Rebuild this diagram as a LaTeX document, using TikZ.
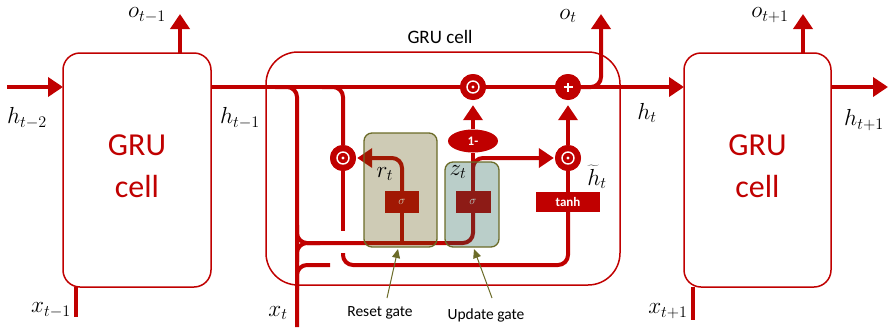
\RequirePackage{fix-cm}
\documentclass[tikz,border=0pt]{standalone}
\usepackage{fontspec}
\setmainfont{Carlito}
\usetikzlibrary{arrows.meta,shapes.geometric}
\definecolor{gred}{RGB}{192,0,0}
\definecolor{olivec}{RGB}{107,107,40}
\definecolor{resetfill}{RGB}{92,82,10}
\definecolor{updfill}{RGB}{26,92,75}
\newcommand{\ml}[1]{\scalebox{1.12}{$#1$}}
\tikzset{
  wire/.style={draw=gred, line width=4pt},
  rwire/.style={wire, rounded corners=10pt},
  arr/.style={-{Triangle[width=19pt,length=15pt]}},
  cellbox/.style={draw=gred, line width=1.5pt, rounded corners=17pt, fill=white, inner sep=0pt},
  gru/.style={text=gred, font=\fontsize{32}{42}\selectfont, align=center},
  mlab/.style={font=\fontsize{20.74}{25}\selectfont, inner sep=0pt},
  odotnode/.style={circle, fill=gred, minimum size=26pt, inner sep=0pt,
    path picture={\draw[white, line width=1.4pt] (path picture bounding box.center) circle (6pt);
      \fill[white] (path picture bounding box.center) circle (1.6pt);}},
  plusnode/.style={circle, fill=gred, minimum size=26pt, inner sep=0pt,
    path picture={\draw[white, line width=2.2pt] ([xshift=-4.5pt]path picture bounding box.center) -- ([xshift=4.5pt]path picture bounding box.center)
      ([yshift=-4.5pt]path picture bounding box.center) -- ([yshift=4.5pt]path picture bounding box.center);}},
  opbox/.style={fill=gred, text=white, inner sep=0pt, font=\bfseries\fontsize{13}{15}\selectfont},
  gatebox/.style={draw=olivec, line width=1.3pt, fill opacity=0.3, rounded corners=8pt, inner sep=0pt},
  note/.style={draw=olivec, line width=1pt, -{Triangle[width=8pt,length=9pt]}},
  notetext/.style={font=\fontsize{15.5}{18}\selectfont, inner sep=0pt}
}
\begin{document}
\begin{tikzpicture}[x=1pt, y=-1pt]
\useasboundingbox (0,0) rectangle (889,327);

% outer cells
\node[cellbox, minimum width=148pt, minimum height=234pt] (cL) at (137,170) {};
\node[gru] (tL) at (137,166) {GRU\\cell};
\node[cellbox, minimum width=147pt, minimum height=234pt] (cR) at (757.5,170) {};
\node[gru] (tR) at (757.5,166) {GRU\\cell};

% middle cell frame
\node[draw=gred, line width=1.5pt, rounded corners=32pt, minimum width=354pt, minimum height=233pt, inner sep=0pt] (cM) at (443,168.5) {};
\node[font=\fontsize{19}{22}\selectfont, inner sep=0pt] (tM) at (440,37) {GRU cell};

% coordinates
\coordinate (hin) at (7,87);
\coordinate (cLin) at (63,87);
\coordinate (cLout) at (211,87);
\coordinate (cRin) at (684,87);
\coordinate (cRout) at (831,87);
\coordinate (hend) at (888,87);
\coordinate (oLb) at (180,53);
\coordinate (oLt) at (180,14);
\coordinate (oRb) at (803,53);
\coordinate (oRt) at (803,14);
\coordinate (xLt) at (76,287);
\coordinate (xLb) at (76,317);
\coordinate (xRt) at (693,287);
\coordinate (xRb) at (693,320);
\coordinate (xbot) at (297,327);

% operator nodes
\node[odotnode] (m1) at (473,87) {};
\node[plusnode] (pl) at (568,87) {};
\node[odotnode] (odr) at (343,158) {};
\node[odotnode] (odh) at (568,158) {};
\node[ellipse, fill=gred, minimum width=50pt, minimum height=23pt, inner sep=0pt, text=white, font=\bfseries\fontsize{13}{15}\selectfont] (onem) at (473,141) {1-};
\node[opbox, minimum width=34pt, minimum height=22pt, font=\fontsize{12}{14}\selectfont] (sigr) at (402,202) {$\sigma$};
\node[opbox, minimum width=35pt, minimum height=22pt, font=\fontsize{12}{14}\selectfont] (sigz) at (473,202) {$\sigma$};
\node[opbox, minimum width=64pt, minimum height=20pt] (tanh) at (568,202) {tanh};

% outer wires
\draw[wire, arr] (hin) -- (cLin);
\draw[wire, arr] (cRout) -- (hend);
\draw[wire, arr] (oLb) -- (oLt);
\draw[wire, arr] (oRb) -- (oRt);
\draw[wire] (xLt) -- (xLb);
\draw[wire] (xRt) -- (xRb);

% main line
\draw[wire, arr] (cLout) -- (cRin);

% internal wires
\draw[rwire] (275,87) -- (297,87) -- (xbot);
\draw[rwire] (322,87) -- (343,87) -- (odr.north);
\draw[wire] (odr.south) -- (343,231);
\draw[rwire] (343,253) -- (343,265) -- (568,265) -- (tanh.south);
\draw[rwire] (297,290) -- (297,265) -- (330,265);
\draw[rwire] (297,225) -- (297,243) -- (473,243) -- (sigz.south);
\draw[rwire] (297,262) -- (297,243) -- (320,243);
\draw[wire] (402,243) -- (sigr.south);
\draw[rwire, arr, shorten >=1pt] (sigr.north) -- (402,158) -- (odr.east);
\draw[wire] (sigz.north) -- (onem.south);
\draw[wire, arr, shorten >=5pt] (onem.north) -- (m1.south);
\draw[rwire, arr, shorten >=1pt] (473,180) -- (473,158) -- (odh.west);
\draw[wire, arr, shorten >=5pt] (odh.north) -- (pl.south);
\draw[wire] (odh.south) -- (tanh.north);
\draw[rwire, arr] (pl.east) -- (601,87) -- (601,14);

% redraw operators on top
\node[odotnode] at (m1) {};
\node[plusnode] at (pl) {};
\node[odotnode] at (odr) {};
\node[odotnode] at (odh) {};

% gate overlays
\node[gatebox, fill=resetfill, minimum width=73pt, minimum height=114pt] (rg) at (400.5,190) {};
\node[gatebox, fill=updfill, minimum width=54pt, minimum height=85pt] (ug) at (472,204.5) {};

% gate labels
\node[mlab] (lr) at (385,174) {\ml{r_t}};
\node[mlab] (lz) at (458,172) {\ml{z_t}};
\node[mlab] (lht) at (597,177) {\ml{\widetilde{h}_t}};

% annotations
\node[notetext] (rgl) at (380,313) {Reset gate};
\node[notetext] (ugl) at (486,315) {Update gate};
\coordinate (rgs) at (387,298);
\coordinate (ugs) at (492,298);
\coordinate (rgt) at (398,249);
\coordinate (ugt) at (474,249);
\draw[note] (rgs) -- (rgt);
\draw[note] (ugs) -- (ugt);

% math labels
\node[mlab] (loL) at (147,15) {\ml{o_{t-1}}};
\node[mlab] (loM) at (568,16) {\ml{o_t}};
\node[mlab] (loR) at (770,15) {\ml{o_{t+1}}};
\node[mlab] (lh2) at (27,118) {\ml{h_{t-2}}};
\node[mlab] (lh1) at (240,118) {\ml{h_{t-1}}};
\node[mlab] (lh0) at (647,113) {\ml{h_t}};
\node[mlab] (lhp) at (864,120) {\ml{h_{t+1}}};
\node[mlab] (lxL) at (51,310) {\ml{x_{t-1}}};
\node[mlab] (lxM) at (278,313) {\ml{x_t}};
\node[mlab] (lxR) at (668,311) {\ml{x_{t+1}}};
\end{tikzpicture}
\end{document}
